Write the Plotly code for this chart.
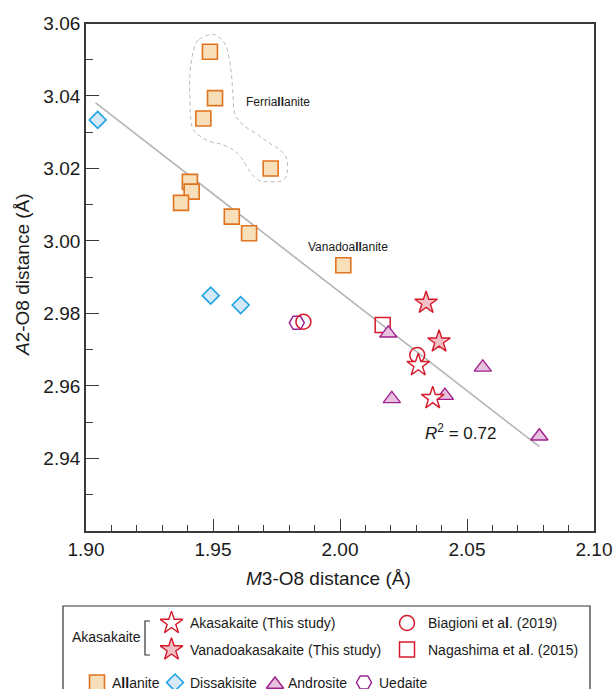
import plotly.graph_objects as go

# ---------------- data ----------------
allanite_x = [1.9488, 1.9508, 1.9462, 1.9727, 1.9409, 1.9416, 1.9374, 1.9574, 1.9642, 2.0013]
allanite_y = [3.0522, 3.0394, 3.0338, 3.0200, 3.0163, 3.0136, 3.0105, 3.0067, 3.0021, 2.9933]
dissakisite_x = [1.9046, 1.9491, 1.9609]
dissakisite_y = [3.0334, 2.9849, 2.9823]
androsite_x = [2.0190, 2.0562, 2.0204, 2.0413, 2.0785]
androsite_y = [2.9745, 2.9651, 2.9564, 2.9573, 2.9461]
uedaite_x = [1.9830]
uedaite_y = [2.9774]
biagioni_x = [1.9856, 2.0304]
biagioni_y = [2.9777, 2.9685]
nagashima_x = [2.0168]
nagashima_y = [2.9768]
akasakaite_x = [2.0308, 2.0365]
akasakaite_y = [2.9657, 2.9566]
vanadoakasakaite_x = [2.0339, 2.0390]
vanadoakasakaite_y = [2.9829, 2.9722]
fit_x = [1.9038, 2.0785]
fit_y = [3.0381, 2.9432]
r2_text = "<i>R</i><sup>2</sup> = 0.72"
# Ferriallanite outline
outline_x = [1.9501, 1.9442, 1.9422, 1.9409, 1.9409, 1.9416, 1.9429, 1.9475, 1.9541, 1.9580,
             1.9613, 1.9646, 1.9678, 1.9724, 1.9777, 1.9793, 1.9787, 1.9764, 1.9724, 1.9678,
             1.9619, 1.9587, 1.9578, 1.9570, 1.9554, 1.9541, 1.9521, 1.9501]
outline_y = [3.0570, 3.0554, 3.0522, 3.0458, 3.0394, 3.0320, 3.0301, 3.0278, 3.0265, 3.0251,
             3.0228, 3.0191, 3.0168, 3.0163, 3.0168, 3.0191, 3.0232, 3.0251, 3.0269, 3.0292,
             3.0320, 3.0348, 3.0412, 3.0476, 3.0532, 3.0550, 3.0564, 3.0570]
x_ticks = [1.90, 1.95, 2.00, 2.05, 2.10]
y_ticks = [2.94, 2.96, 2.98, 3.00, 3.02, 3.04, 3.06]

# ---------------- styles ----------------
FONT = "Arial, Liberation Sans, sans-serif"
TXT = "#1a1a1a"
AX = "#3a3a3a"
RED = "#d7182a"
STAR_FILL = "#efc1c6"
AL_FILL, AL_LINE = "#f7dfb9", "#e0731f"
DI_FILL, DI_LINE = "#d6e9f8", "#1ea2e2"
AN_FILL, AN_LINE = "#e7c2de", "#a1208e"
UE_LINE = "#9b2593"

W, H = 615, 689
PX_L, PX_R, PX_T, PX_B = 86, 594, 23.5, 530.8

sty = {
    "allanite": dict(symbol="square", size=15, color=AL_FILL, line=dict(color=AL_LINE, width=1.6)),
    "dissakisite": dict(symbol="diamond", size=13, color=DI_FILL, line=dict(color=DI_LINE, width=1.6)),
    "androsite": dict(symbol="triangle-up", size=15, color=AN_FILL, line=dict(color=AN_LINE, width=1.4)),
    "uedaite": dict(symbol="hexagon2", size=15, color="rgba(0,0,0,0)", line=dict(color=UE_LINE, width=1.5)),
    "biagioni": dict(symbol="circle", size=15, color="rgba(0,0,0,0)", line=dict(color=RED, width=1.5)),
    "nagashima": dict(symbol="square", size=15, color="rgba(0,0,0,0)", line=dict(color=RED, width=1.5)),
    "vanado": dict(symbol="star", size=17, color=STAR_FILL, line=dict(color=RED, width=1.4)),
    "akasa": dict(symbol="star", size=17, color="white", line=dict(color=RED, width=1.4)),
}

fig = go.Figure()

# regression line and outline
fig.add_trace(go.Scatter(x=fit_x, y=fit_y, mode="lines", line=dict(color="#b5b5b5", width=1.6),
                         hoverinfo="skip", showlegend=False))
fig.add_trace(go.Scatter(x=outline_x, y=outline_y, mode="lines",
                         line=dict(color="#b9b9b9", width=1, dash="4px,3px", shape="spline"),
                         hoverinfo="skip", showlegend=False))

series = [
    ("allanite", allanite_x, allanite_y),
    ("dissakisite", dissakisite_x, dissakisite_y),
    ("uedaite", uedaite_x, uedaite_y),
    ("biagioni", biagioni_x, biagioni_y),
    ("nagashima", nagashima_x, nagashima_y),
    ("androsite", androsite_x, androsite_y),
    ("vanado", vanadoakasakaite_x, vanadoakasakaite_y),
    ("akasa", akasakaite_x, akasakaite_y),
]
for key, xs, ys in series:
    fig.add_trace(go.Scatter(x=xs, y=ys, mode="markers", marker=sty[key], showlegend=False,
                             cliponaxis=False))

# ---------------- legend (pixel overlay axes) ----------------
leg_items = [
    ("akasa", 171.5, 623, "Akasakaite (This study)", 188),
    ("vanado", 171.5, 649.5, "Vanadoakasakaite (This study)", 188),
    ("biagioni", 407, 623, "Biagioni et a<b>l</b>. (2019)", 426),
    ("nagashima", 407, 649.5, "Nagashima et a<b>l</b>. (2015)", 426),
    ("allanite", 97, 682.5, "A<b>ll</b>anite", 110),
    ("dissakisite", 175, 682.5, "Dissakisite", 188),
    ("androsite", 275, 684.5, "Androsite", 286),
    ("uedaite", 364, 682.5, "Uedaite", 377),
]
annotations = []
for key, sx, sy, label, tx in leg_items:
    fig.add_trace(go.Scatter(x=[sx], y=[sy], mode="markers", marker=sty[key], xaxis="x2", yaxis="y2",
                             showlegend=False, hoverinfo="skip", cliponaxis=False))
    annotations.append(dict(x=tx, y=sy - (2 if key == "androsite" else 0), xref="x2", yref="y2",
                            text=label, showarrow=False, xanchor="left", yanchor="middle",
                            font=dict(family=FONT, size=14, color=TXT)))
annotations.append(dict(x=70, y=636.5, xref="x2", yref="y2", text="Akasakaite", showarrow=False,
                        xanchor="left", yanchor="middle", font=dict(family=FONT, size=14, color=TXT)))

# in-plot labels
annotations += [
    dict(x=1.9622, y=3.0384, xref="x", yref="y", text="Ferria<b>ll</b>anite", showarrow=False,
         xanchor="left", yanchor="middle", font=dict(family=FONT, size=12, color=TXT)),
    dict(x=2.0033, y=2.9984, xref="x", yref="y", text="Vanadoa<b>ll</b>anite", showarrow=False,
         xanchor="center", yanchor="middle", font=dict(family=FONT, size=12, color=TXT)),
    dict(x=2.0476, y=2.9473, xref="x", yref="y", text=r2_text, showarrow=False,
         xanchor="center", yanchor="middle", font=dict(family=FONT, size=17, color=TXT)),
    # axis titles
    dict(x=328, y=578, xref="x2", yref="y2", text="<i>M</i>3-O8 distance (Å)", showarrow=False,
         xanchor="center", yanchor="middle", font=dict(family=FONT, size=19, color=TXT)),
    dict(x=22, y=275, xref="x2", yref="y2", text="<i>A</i>2-O8 distance (Å)", showarrow=False,
         textangle=-90, xanchor="center", yanchor="middle", font=dict(family=FONT, size=19, color=TXT)),
]

shapes = [
    dict(type="rect", xref="x2", yref="y2", x0=63, x1=590, y0=606, y1=720,
         line=dict(color="#333333", width=1.2), fillcolor="rgba(0,0,0,0)", layer="below"),
    dict(type="path", xref="x2", yref="y2", path="M 150,621 L 145,621 L 145,655 L 150,655",
         line=dict(color="#333333", width=1.2)),
]

fig.update_layout(
    width=W, height=H,
    margin=dict(l=0, r=0, t=0, b=0, pad=0, autoexpand=False),
    paper_bgcolor="white", plot_bgcolor="rgba(0,0,0,0)",
    font=dict(family=FONT, color=TXT),
    showlegend=False,
    xaxis=dict(domain=[PX_L / W, PX_R / W], range=[1.90, 2.10], tickvals=x_ticks, automargin=False,
               ticktext=[f"{v:.2f}" for v in x_ticks], ticks="inside", ticklen=12, tickwidth=1.3,
               tickcolor=AX, showline=True, linecolor=AX, linewidth=1.8, mirror=True,
               showgrid=False, zeroline=False, tickfont=dict(size=19, color=TXT, family=FONT),
               minor=dict(dtick=0.01, tick0=1.90, ticks="inside", ticklen=6, tickwidth=1.1,
                          tickcolor=AX, showgrid=False),
               anchor="y"),
    yaxis=dict(domain=[(H - PX_B) / H, (H - PX_T) / H], range=[2.92, 3.06], tickvals=y_ticks,
               automargin=False,
               ticktext=[f"{v:.2f}" for v in y_ticks], ticks="inside", ticklen=13, tickwidth=1.3,
               tickcolor=AX, showline=True, linecolor=AX, linewidth=1.8, mirror=True,
               showgrid=False, zeroline=False, tickfont=dict(size=19, color=TXT, family=FONT),
               minor=dict(dtick=0.01, tick0=2.92, ticks="inside", ticklen=7, tickwidth=1.1,
                          tickcolor=AX, showgrid=False),
               anchor="x"),
    xaxis2=dict(domain=[0, 1], range=[0, W], visible=False, anchor="y2", fixedrange=True,
                automargin=False),
    yaxis2=dict(domain=[0, 1], range=[H, 0], visible=False, anchor="x2", fixedrange=True,
                automargin=False),
    annotations=annotations,
    shapes=shapes,
)

fig.write_html("out.html")
